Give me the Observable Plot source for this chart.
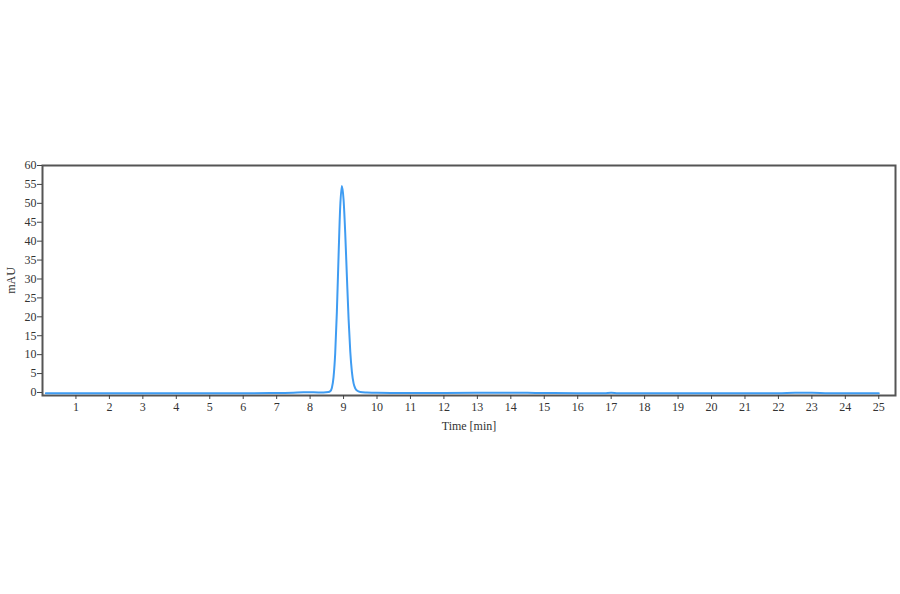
<!DOCTYPE html>
<html>
<head>
<meta charset="utf-8">
<script src="https://cdn.jsdelivr.net/npm/d3@7"></script>
<script src="https://cdn.jsdelivr.net/npm/@observablehq/plot@0.6"></script>
<style>
  html, body { margin: 0; padding: 0; background: #fff; }
  #chart { width: 900px; height: 594px; }
</style>
</head>
<body>
<div id="chart"></div>
<script>
const timeMin = [0.1, 1, 2, 3, 4, 5, 6, 7, 7.5, 7.8, 8.1, 8.4, 8.55, 8.6, 8.65, 8.7, 8.75, 8.8, 8.85, 8.9, 8.95, 9.0, 9.05, 9.1, 9.15, 9.2, 9.25, 9.3, 9.35, 9.4, 9.5, 9.7, 10, 11, 12, 13, 13.5, 14, 14.5, 15, 16, 16.8, 17, 17.2, 18, 19, 20, 21, 22, 22.5, 23, 23.5, 24, 25];
const mAU = [-0.2, -0.2, -0.2, -0.2, -0.2, -0.2, -0.2, -0.15, -0.05, 0.05, 0.05, 0.0, 0.1, 0.3, 1.2, 4.0, 10.3, 21.3, 35.9, 49.1, 54.6, 51.0, 42.1, 30.6, 19.5, 10.9, 5.4, 2.4, 1.1, 0.5, 0.15, 0.0, -0.1, -0.15, -0.15, -0.1, -0.05, -0.05, -0.1, -0.15, -0.2, -0.2, -0.05, -0.2, -0.2, -0.2, -0.2, -0.2, -0.2, -0.1, -0.1, -0.2, -0.2, -0.2];
const xTicks = d3.range(1, 26);
const yTicks = d3.range(0, 61, 5);

const data = timeMin.map((t, i) => ({t, v: mAU[i]}));

const chart = Plot.plot({
  width: 900,
  height: 594,
  marginLeft: 42,
  marginRight: 5,
  marginTop: 165,
  marginBottom: 199,
  style: {fontFamily: "'Liberation Serif', 'DejaVu Serif', serif", fontSize: "12px", color: "#333", background: "#fff"},
  x: {domain: [0, 25.5]},
  y: {domain: [-0.8, 60]},
  marks: [
    Plot.frame({stroke: "#555", strokeWidth: 2}),
    Plot.line(data, {x: "t", y: "v", stroke: "#3f9cf2", strokeWidth: 2, curve: "monotone-x"}),
    Plot.axisX({ticks: xTicks, tickSize: 4, tickPadding: 3, tickFormat: d => d, stroke: "#444", label: "Time [min]", labelAnchor: "center", labelArrow: "none", labelOffset: 34}),
    Plot.axisY({ticks: yTicks, tickSize: 5, tickPadding: 1, tickFormat: d => d, stroke: "#444", label: "mAU", labelAnchor: "center", labelArrow: "none", labelOffset: 36})
  ]
});
document.getElementById("chart").appendChild(chart);
</script>
</body>
</html>
